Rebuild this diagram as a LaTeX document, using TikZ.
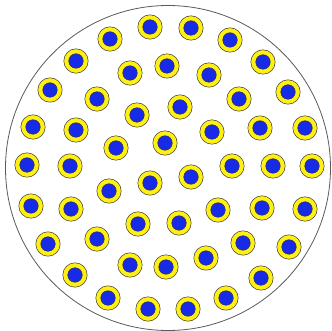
\documentclass[tikz,border=0pt]{standalone}
\usepackage{tikz}

\definecolor{ringyellow}{RGB}{255,240,20}
\definecolor{coreblue}{RGB}{22,42,232}

\begin{document}
\begin{tikzpicture}[x=1pt, y=-1pt,
  rim/.style={draw=black!65, line width=0.8pt},
  ring/.style={draw=black!80, fill=ringyellow, line width=0.5pt},
  core/.style={draw=black!80, fill=coreblue, line width=0.4pt}
]
\useasboundingbox (0,0) rectangle (332,331);
\draw[rim] (168,168) circle (162.5);

% particles
\foreach \x/\y in {150/27, 191/28, 230/40, 110/39, 263/62,
    76/61, 130/73, 167/66, 209/75,
    50/90, 97/99, 239/99, 288/92, 137/115, 180/107,
    33/127, 76/130, 212/132, 260/128, 305/128, 116/148, 165/143,
    27/165, 70/166, 232/166, 273/166, 312/166,
    109/191, 150/183, 191/177,
    31/206, 71/209, 218/210, 262/208, 305/209, 138/224, 179/223,
    48/244, 97/239, 243/243, 289/247,
    130/265, 166/267, 206/258, 75/275, 261/278,
    108/298, 148/309, 188/309, 226/298} {
  \draw[ring] (\x,\y) circle (12.2);
  \draw[core] (\x,\y) circle (7.3);
}
\end{tikzpicture}
\end{document}
